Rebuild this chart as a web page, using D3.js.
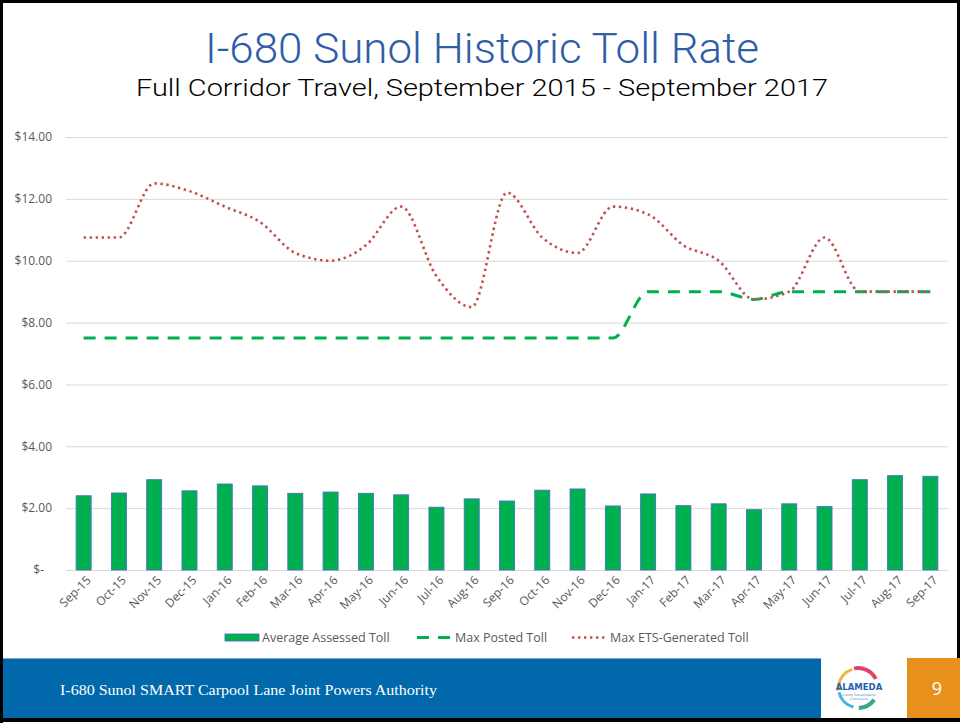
<!DOCTYPE html>
<html>
<head>
<meta charset="utf-8">
<script src="https://cdn.jsdelivr.net/npm/d3@7"></script>
<style>
  html, body { margin: 0; padding: 0; background: #fff; }
  svg { display: block; }
</style>
</head>
<body>
<svg id="chart" width="960" height="723"></svg>
<script>
// ---- data ----
const months = ["Sep-15","Oct-15","Nov-15","Dec-15","Jan-16","Feb-16","Mar-16","Apr-16","May-16","Jun-16","Jul-16","Aug-16",
                "Sep-16","Oct-16","Nov-16","Dec-16","Jan-17","Feb-17","Mar-17","Apr-17","May-17","Jun-17","Jul-17","Aug-17","Sep-17"];
const avgAssessed = [2.40,2.49,2.92,2.56,2.78,2.72,2.48,2.52,2.48,2.43,2.03,2.30,
                     2.23,2.58,2.62,2.07,2.46,2.08,2.14,1.95,2.14,2.05,2.92,3.05,3.03];
const maxPosted   = [7.5,7.5,7.5,7.5,7.5,7.5,7.5,7.5,7.5,7.5,7.5,7.5,
                     7.5,7.5,7.5,7.5,9.0,9.0,9.0,8.75,9.0,9.0,9.0,9.0,9.0];
const maxETS      = [10.75,10.75,12.5,12.25,11.75,11.25,10.25,10.0,10.5,11.75,9.5,8.5,
                     12.2,10.75,10.25,11.75,11.5,10.5,10.0,8.75,9.0,10.75,9.0,9.0,9.0];
const yTicks = [0,2,4,6,8,10,12,14];
const seriesNames = ["Average Assessed Toll","Max Posted Toll","Max ETS-Generated Toll"];
const titleText = "I-680 Sunol Historic Toll Rate";
const subtitleText = "Full Corridor Travel, September 2015 - September 2017";
const footerText = "I-680 Sunol SMART Carpool Lane Joint Powers Authority";
const pageNumber = "9";

// ---- layout ----
const svg = d3.select("#chart");
const green = "#00B050", red = "#C0504D", gray = "#595959";
const axisFont = "'Open Sans', 'DejaVu Sans', sans-serif";

const x = d3.scaleBand().domain(months).range([66, 948]).paddingInner(0.575).paddingOuter(0.2875);
const y = d3.scaleLinear().domain([0, 14]).range([570, 137]);
const cx = d => x(d) + x.bandwidth() / 2;

// titles
svg.append("text").attr("x", 482).attr("y", 63).attr("text-anchor", "middle")
  .attr("font-family", "'Roboto', 'Open Sans', sans-serif").attr("font-weight", 300)
  .attr("font-size", 43).attr("fill", "#2F5DA8")
  .attr("textLength", 554).attr("lengthAdjust", "spacingAndGlyphs")
  .text(titleText);
svg.append("text").attr("x", 482).attr("y", 96).attr("text-anchor", "middle")
  .attr("font-family", "'Roboto', 'Open Sans', sans-serif").attr("font-weight", 300)
  .attr("font-size", 23).attr("fill", "#000")
  .attr("textLength", 692).attr("lengthAdjust", "spacingAndGlyphs")
  .text(subtitleText);

// gridlines + y labels
const yAxis = d3.axisLeft(y).tickValues(yTicks).tickSize(-(948 - 66)).tickPadding(14)
  .tickFormat(d => d === 0 ? "$-" : "$" + d3.format(".2f")(d));
const gy = svg.append("g").attr("transform", "translate(66,0)").call(yAxis);
gy.select(".domain").remove();
gy.selectAll(".tick line").attr("stroke", "#D9D9D9").attr("stroke-width", 1);
gy.selectAll(".tick text").attr("font-family", axisFont).attr("font-size", 12).attr("fill", gray);
gy.selectAll(".tick text").filter(d => d === 0).attr("dx", -8);

// bars
svg.append("g").selectAll("rect").data(months).join("rect")
  .attr("x", d => x(d)).attr("width", x.bandwidth())
  .attr("y", (d, i) => y(avgAssessed[i])).attr("height", (d, i) => y(0) - y(avgAssessed[i]))
  .attr("fill", green).attr("stroke", "#4472C4").attr("stroke-width", 0.9);

// lines
const line = d3.line().x(d => cx(d.m)).y(d => y(d.v)).curve(d3.curveMonotoneX);
svg.append("path").datum(months.map((m, i) => ({m, v: maxPosted[i]})))
  .attr("d", line).attr("fill", "none").attr("stroke", green).attr("stroke-width", 3)
  .attr("stroke-dasharray", "12 9");
svg.append("path").datum(months.map((m, i) => ({m, v: maxETS[i]})))
  .attr("d", line).attr("fill", "none").attr("stroke", red).attr("stroke-width", 2.6)
  .attr("stroke-dasharray", "2.4 3.6");

// x labels
const gx = svg.append("g").attr("transform", "translate(0,570)")
  .call(d3.axisBottom(x).tickSize(0).tickPadding(0));
gx.select(".domain").remove();
gx.selectAll(".tick text")
  .attr("font-family", axisFont).attr("font-size", 12).attr("fill", gray)
  .attr("text-anchor", "end")
  .attr("transform", "translate(5,8) rotate(-45)")
  .attr("dy", "0.35em").attr("y", 0);

// legend
const lg = svg.append("g").attr("font-family", axisFont).attr("font-size", 12.5).attr("fill", gray);
lg.append("rect").attr("x", 225).attr("y", 634).attr("width", 34).attr("height", 7)
  .attr("fill", green).attr("stroke", "#4472C4").attr("stroke-width", 0.9);
lg.append("text").attr("x", 262).attr("y", 642).text(seriesNames[0]);
lg.append("line").attr("x1", 417).attr("x2", 450).attr("y1", 637.5).attr("y2", 637.5)
  .attr("stroke", green).attr("stroke-width", 3).attr("stroke-dasharray", "12 9");
lg.append("text").attr("x", 455).attr("y", 642).text(seriesNames[1]);
lg.append("line").attr("x1", 572).attr("x2", 606).attr("y1", 637.5).attr("y2", 637.5)
  .attr("stroke", red).attr("stroke-width", 2.6).attr("stroke-dasharray", "2.4 3.6");
lg.append("text").attr("x", 610).attr("y", 642).text(seriesNames[2]);

// footer
svg.append("rect").attr("x", 3).attr("y", 658).attr("width", 818).attr("height", 60).attr("fill", "#0068AB");
svg.append("line").attr("x1", 3).attr("x2", 821).attr("y1", 658.5).attr("y2", 658.5).attr("stroke", "#7FA8D0").attr("stroke-width", 1);
svg.append("text").attr("x", 60).attr("y", 695).attr("fill", "#fff")
  .attr("font-family", "'Liberation Serif', 'DejaVu Serif', serif").attr("font-size", 15)
  .attr("textLength", 377).attr("lengthAdjust", "spacingAndGlyphs")
  .text(footerText);
svg.append("rect").attr("x", 907).attr("y", 658).attr("width", 53).attr("height", 60).attr("fill", "#E8901C");
svg.append("text").attr("x", 937).attr("y", 695).attr("text-anchor", "middle").attr("fill", "#fff")
  .attr("font-family", "'Open Sans', sans-serif").attr("font-size", 18).text(pageNumber);

// logo
const lgc = svg.append("g").attr("transform", "translate(858,688)");
const arc = d3.arc();
lgc.append("path").attr("d", arc({innerRadius: 18, outerRadius: 22, startAngle: -0.2, endAngle: 1.1})).attr("fill", "#E0436A");
lgc.append("path").attr("d", arc({innerRadius: 18, outerRadius: 21, startAngle: -1.7, endAngle: -0.3})).attr("fill", "#F2B33D");
lgc.append("path").attr("d", arc({innerRadius: 18, outerRadius: 21, startAngle: -2.9, endAngle: -1.8})).attr("fill", "#3FB4E5");
lgc.append("path").attr("d", arc({innerRadius: 18, outerRadius: 22, startAngle: 2.2, endAngle: 3.1})).attr("fill", "#3AA68A");
lgc.append("text").attr("x", 1).attr("y", 2).attr("text-anchor", "middle").attr("fill", "#1B62AE")
  .attr("font-family", "'DejaVu Sans', sans-serif").attr("font-weight", "bold").attr("font-size", 8.5).text("ALAMEDA");
lgc.append("text").attr("x", 1).attr("y", 8).attr("text-anchor", "middle").attr("fill", "#3A8CC8")
  .attr("font-family", "'DejaVu Sans', sans-serif").attr("font-size", 3).text("County Transportation");
lgc.append("text").attr("x", 1).attr("y", 11.5).attr("text-anchor", "middle").attr("fill", "#3A8CC8")
  .attr("font-family", "'DejaVu Sans', sans-serif").attr("font-size", 3).text("Commission");

// frame
svg.append("rect").attr("x", 0).attr("y", 0).attr("width", 3).attr("height", 723).attr("fill", "#000");
svg.append("rect").attr("x", 0).attr("y", 0).attr("width", 960).attr("height", 3).attr("fill", "#000");
svg.append("rect").attr("x", 957).attr("y", 0).attr("width", 3).attr("height", 658).attr("fill", "#000");
svg.append("rect").attr("x", 0).attr("y", 718).attr("width", 960).attr("height", 4).attr("fill", "#000");
</script>
</body>
</html>
